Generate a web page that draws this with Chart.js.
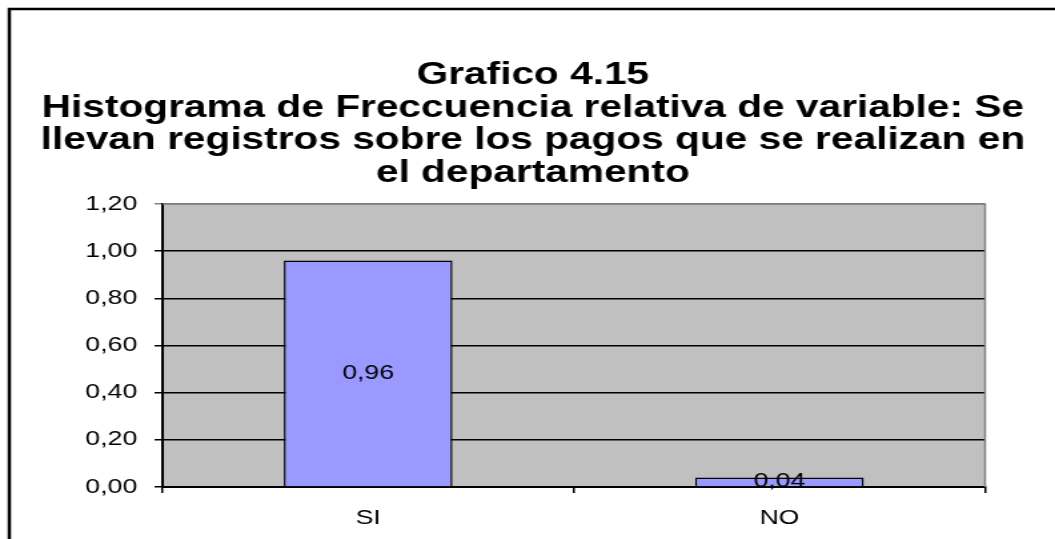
<!DOCTYPE html>
<html lang="es">
<head>
<meta charset="utf-8">
<title>Grafico 4.15</title>
<script src="https://cdn.jsdelivr.net/npm/chart.js@4.4.1/dist/chart.umd.min.js"></script>
<style>
    html, body { margin: 0; padding: 0; background: #ffffff; }
</style>
</head>
<body>
<!-- el original tiene todo el texto ensanchado, asi que se estira el canvas en horizontal -->
<canvas id="grafico" width="792" height="539" style="width:1055px; height:539px; display:block;"></canvas>
<script>
// ✅ datos del grafico
const categorias = ["SI", "NO"];
const frecuenciaRelativa = [0.96, 0.04];
const ejeYMin = 0;
const ejeYMax = 1.2;
const ejeYPaso = 0.2;
const lineasTitulo = [
    "Grafico 4.15",
    "Histograma de Freccuencia relativa de variable: Se",
    "llevan registros sobre los pagos que se realizan en",
    "el departamento"
];

const FUENTE = "'Liberation Sans', Arial, sans-serif";

// numero con coma decimal (1,20)
function formatoComa(valor) {
    return Number(valor).toFixed(2).replace(".", ",");
}

// ✅ fondo, marco exterior y titulo
const fondoPlugin = {
    id: "fondo",
    beforeDraw(chart) {
        const ctx = chart.ctx;
        const area = chart.chartArea;
        ctx.save();
        ctx.fillStyle = "#ffffff";
        ctx.fillRect(0, 0, chart.width, chart.height);
        ctx.strokeStyle = "#000000";
        ctx.lineWidth = 2.5;
        ctx.strokeRect(7, 9, chart.width + 20, chart.height + 20);
        ctx.fillStyle = "#c0c0c0";
        ctx.fillRect(area.left, area.top, area.right - area.left, area.bottom - area.top);
        ctx.restore();
    },
    afterDraw(chart) {
        const ctx = chart.ctx;
        const area = chart.chartArea;
        ctx.save();
        // borde gris arriba y a la derecha del area de trazado
        ctx.strokeStyle = "#808080";
        ctx.lineWidth = 1.5;
        ctx.beginPath();
        ctx.moveTo(area.left, area.top);
        ctx.lineTo(area.right, area.top);
        ctx.lineTo(area.right, area.bottom);
        ctx.stroke();

        ctx.fillStyle = "#000000";
        ctx.font = `bold 30.5px ${FUENTE}`;
        ctx.textAlign = "center";
        ctx.textBaseline = "middle";
        lineasTitulo.forEach((linea, i) => {
            ctx.fillText(linea, 400, 76 + i * 32.5);
        });
        ctx.restore();
    }
};

// ✅ etiqueta del valor en el centro de cada barra
const etiquetasPlugin = {
    id: "etiquetas",
    afterDatasetsDraw(chart) {
        const ctx = chart.ctx;
        const meta = chart.getDatasetMeta(0);
        ctx.save();
        ctx.fillStyle = "#000000";
        ctx.font = `20px ${FUENTE}`;
        ctx.textAlign = "center";
        ctx.textBaseline = "middle";
        meta.data.forEach((barra, i) => {
            ctx.fillText(formatoComa(frecuenciaRelativa[i]), barra.x, (barra.y + barra.base) / 2);
        });
        ctx.restore();
    }
};

function crearGrafico() {
    const canvas = document.getElementById("grafico");
    return new Chart(canvas, {
        type: "bar",
        data: {
            labels: categorias,
            datasets: [{
                data: frecuenciaRelativa,
                backgroundColor: "#9999ff",
                borderColor: "#000000",
                borderWidth: 1.5,
                categoryPercentage: 1,
                barPercentage: 0.41
            }]
        },
        options: {
            responsive: false,
            animation: false,
            layout: { padding: { top: 204, right: 52.5, bottom: 0, left: 0 } },
            plugins: {
                legend: { display: false },
                title: { display: false },
                tooltip: { enabled: false }
            },
            scales: {
                y: {
                    min: ejeYMin,
                    max: ejeYMax,
                    afterFit(scale) { scale.width = 122; },
                    border: { color: "#000000", width: 2 },
                    grid: {
                        color: (c) => (c.tick && c.tick.value >= ejeYMax ? "#808080" : "#000000"),
                        lineWidth: 1.5,
                        tickLength: 6
                    },
                    ticks: {
                        stepSize: ejeYPaso,
                        padding: 13,
                        color: "#000000",
                        font: { family: FUENTE, size: 20 },
                        callback: (v) => formatoComa(v)
                    }
                },
                x: {
                    afterFit(scale) { scale.height = 52; },
                    border: { color: "#000000", width: 2 },
                    grid: {
                        drawOnChartArea: false,
                        color: "#000000",
                        lineWidth: 1.5,
                        tickLength: 6
                    },
                    ticks: {
                        padding: 13,
                        color: "#000000",
                        font: { family: FUENTE, size: 20 }
                    }
                }
            }
        },
        plugins: [fondoPlugin, etiquetasPlugin]
    });
}

crearGrafico();
</script>
</body>
</html>
